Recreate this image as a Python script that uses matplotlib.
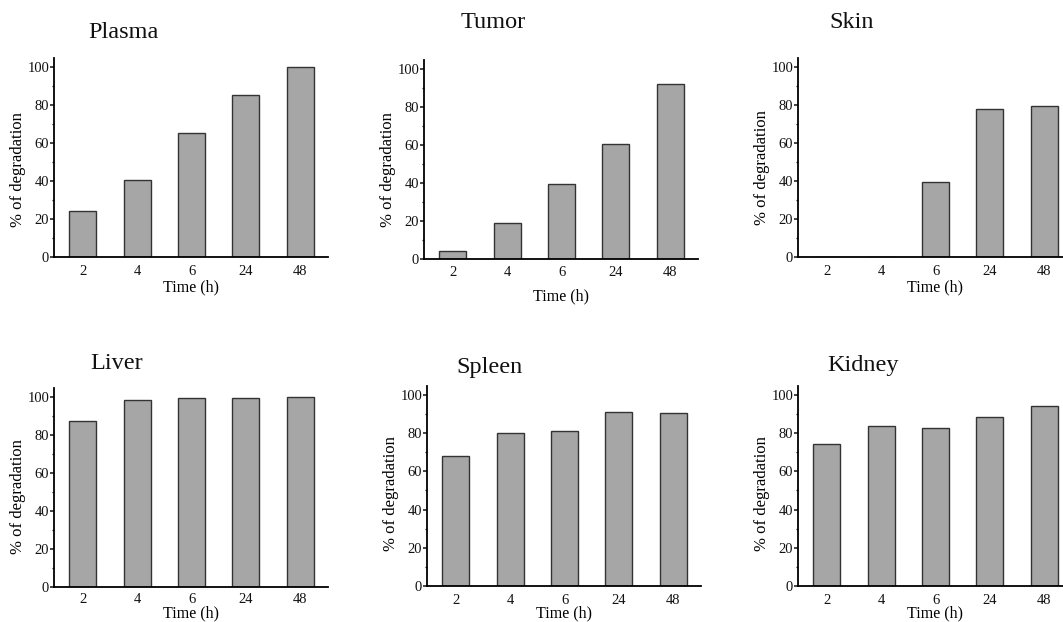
import matplotlib
matplotlib.use("Agg")
import matplotlib.pyplot as plt
from matplotlib.ticker import MultipleLocator

plt.rcParams.update({"font.family": "Liberation Serif", "font.size": 10,
                     "axes.linewidth": 1.3, "text.color": "#111111",
                     "xtick.color": "#111111", "ytick.color": "#111111"})

times = ["2", "4", "6", "24", "48"]
organs = ["Plasma", "Tumor", "Skin", "Liver", "Spleen", "Kidney"]
plasma = [24.2, 40.5, 65.5, 85.0, 100.0]
tumor = [4.4, 19.0, 39.5, 60.5, 92.0]
skin = [0.0, 0.0, 39.5, 78.0, 79.5]
liver = [87.4, 98.6, 99.3, 99.3, 100.0]
spleen = [68.0, 80.3, 81.2, 91.2, 90.6]
kidney = [74.5, 83.8, 82.6, 88.7, 94.0]
values = [plasma, tumor, skin, liver, spleen, kidney]

W, H = 1063, 622
# pixel layout: axis left, x-axis row, axis top
boxes = [(54, 257, 58), (424, 259, 60), (798, 257, 58),
         (54, 587, 388), (427, 586, 386), (798, 586, 386)]
titles_at = [(123, 33), (493, 23), (852, 23), (117, 363), (490, 367), (863, 365)]
xlab_gap = [22, 29, 22, 18.5, 19.5, 19]
tick_pad = [6, 5, 6, 4.5, 6, 5.5]
ylab_y = [0.44, 0.447, 0.45, 0.452, 0.46, 0.46]
AW = 274

fig = plt.figure(figsize=(W / 100, H / 100), dpi=100)
for i, name in enumerate(organs):
    left, base, top = boxes[i]
    ht = base - top
    ax = fig.add_axes([left / W, 1 - base / H, AW / W, ht / H])
    ax.bar(range(len(times)), values[i], width=0.5, color="#a6a6a6",
           edgecolor="#333333", linewidth=1.0)
    ax.set_xlim(-0.53, 4.51)
    ax.set_ylim(0, 104.7)
    ax.set_xticks(range(len(times)))
    ax.set_xticklabels(times)
    ax.yaxis.set_major_locator(MultipleLocator(20))
    ax.yaxis.set_minor_locator(MultipleLocator(10))
    ax.tick_params(axis="x", length=0, pad=tick_pad[i], labelsize=10.5)
    ax.tick_params(axis="y", which="major", direction="out", length=3, width=1.1,
                   pad=0.5, labelsize=10.5)
    ax.tick_params(axis="y", which="minor", direction="out", length=1.8, width=0.9)
    for s in ("top", "right"):
        ax.spines[s].set_visible(False)
    ax.set_xlabel("Time (h)", fontsize=11.5, va="top")
    ax.xaxis.set_label_coords(0.5, -xlab_gap[i] / ht)
    ax.set_ylabel("% of degradation", fontsize=12, va="center")
    ax.yaxis.set_label_coords(-36 / AW, ylab_y[i])
    tx, ty = titles_at[i]
    fig.text(tx / W, 1 - ty / H, name, fontsize=17.5, ha="center", va="center")

fig.savefig("out.png", dpi=100)
